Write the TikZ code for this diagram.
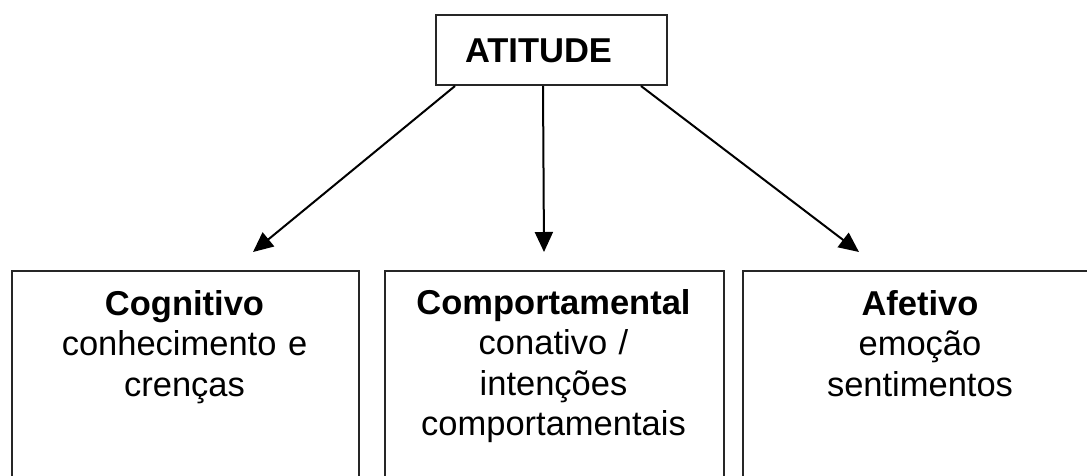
\documentclass[tikz,border=0pt]{standalone}
\usepackage{fontspec}
\setmainfont{Liberation Sans}
\usetikzlibrary{arrows.meta}

\tikzset{
  frame/.style={draw=black!85, line width=2pt, inner sep=0pt},
  body/.style={text width=330pt, align=center, inner sep=0pt, anchor=base},
  arr/.style={draw=black, line width=2pt, -{Triangle[length=20pt,width=18pt]}},
}

\begin{document}
\begin{tikzpicture}[x=1pt, y=-1pt, font=\fontsize{34.5}{40.5}\selectfont]
  \useasboundingbox (0,0) rectangle (1087,475);
  \fill[white] (0,0) rectangle (1087,475);
  \clip (0,0) rectangle (1087,475);

  % top concept
  \node[frame, minimum width=231pt, minimum height=70pt, text width=173pt,
        inner xsep=29pt, align=left, text height=25pt, text depth=0pt]
        (att) at (551.5,50) {\textbf{ATITUDE}};

  % three components (boxes run past the lower and right edges)
  \node[frame, anchor=north west, minimum width=347pt, minimum height=260pt] (cog) at (11,270) {};
  \node[frame, anchor=north west, minimum width=339pt, minimum height=260pt] (com) at (384,270) {};
  \node[frame, anchor=north west, minimum width=356pt, minimum height=260pt] (afe) at (742,270) {};

  \node[body] (cogtxt) at (184.5,315) {\textbf{Cognitivo}\\conhecimento e\\crenças};
  \node[body] (comtxt) at (553.5,314) {\textbf{Comportamental}\\conativo /\\intenções\\comportamentais};
  \node[body] (afetxt) at (920,315) {\textbf{Afetivo}\\emoção\\sentimentos};

  % connectors
  \draw[arr] ([xshift=-96.5pt]att.south) -- ([xshift=67.5pt,yshift=18pt]cog.north);
  \draw[arr] ([xshift=-8.5pt]att.south) -- ([xshift=-10.5pt,yshift=18pt]com.north);
  \draw[arr] ([xshift=89.5pt]att.south) -- ([xshift=-62pt,yshift=18pt]afe.north);
\end{tikzpicture}
\end{document}
